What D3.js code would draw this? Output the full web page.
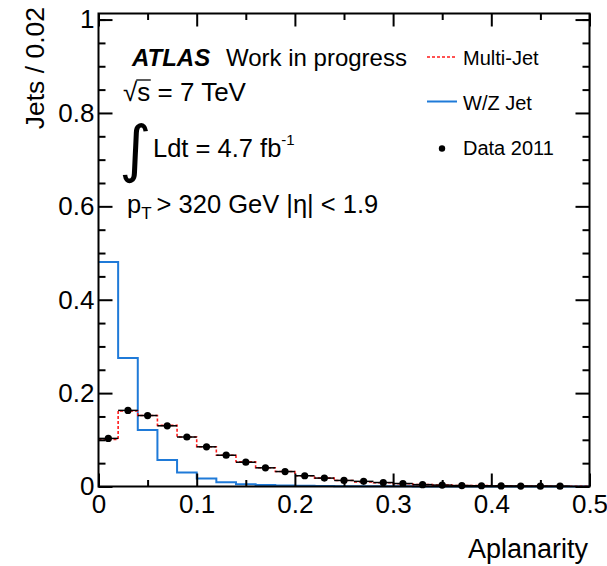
<!DOCTYPE html>
<html><head><meta charset="utf-8">
<script src="https://cdnjs.cloudflare.com/ajax/libs/d3/7.8.5/d3.min.js"></script>
<style>
body{margin:0;background:#fff;}
svg{display:block;font-family:"Liberation Sans",Arial,Helvetica,sans-serif;}
</style></head>
<body><svg id="c" width="607" height="566"></svg>
<script>
// ---- data ----
const binWidth = 0.02;
const binLow = [0.00,0.02,0.04,0.06,0.08,0.10,0.12,0.14,0.16,0.18,0.20,0.22,0.24,0.26,0.28,0.30,0.32,0.34,0.36,0.38,0.40,0.42,0.44,0.46,0.48];
const multiJet = [0.101,0.162,0.152,0.131,0.106,0.085,0.067,0.053,0.040,0.032,0.023,0.018,0.013,0.010,0.008,0.006,0.004,0.003,0.002,0.0018,0.0014,0.0011,0.0009,0.0006,0.0004];
const wzJet = [0.481,0.275,0.121,0.057,0.030,0.017,0.009,0.005,0.003,0.002,0.0015,0.0011,0.0008,0.0005,0.0004,0.0003,0.0002,0.0002,0.0001,0.0001,0.0001,0,0,0,0];
const dataCenters = [0.01,0.03,0.05,0.07,0.09,0.11,0.13,0.15,0.17,0.19,0.21,0.23,0.25,0.27,0.29,0.31,0.33,0.35,0.37,0.39,0.41,0.43,0.45,0.47];
const data2011 = [0.103,0.163,0.152,0.130,0.106,0.085,0.067,0.052,0.040,0.032,0.023,0.018,0.013,0.011,0.0085,0.0064,0.004,0.003,0.002,0.0016,0.0012,0.001,0.0008,0.0006];
const xMajorTicks = [0,0.1,0.2,0.3,0.4,0.5];
const xMinorTicks = [0.05,0.15,0.25,0.35,0.45];
const yMajorTicks = [0,0.2,0.4,0.6,0.8,1];
const yMinorTicks = [0.05,0.1,0.15,0.25,0.3,0.35,0.45,0.5,0.55,0.65,0.7,0.75,0.85,0.9,0.95,1.0];
const legendLabels = ["Multi-Jet","W/Z Jet","Data 2011"];

// ---- layout ----
const L=98.5,R=589.5,T=13.5,B=486.5;
const x=d3.scaleLinear().domain([0,0.5]).range([L,R]);
const y=d3.scaleLinear().domain([0,1.013]).range([B,T]);
const svg=d3.select("#c");
svg.append("rect").attr("width",607).attr("height",566).attr("fill","#fff");

const blue="#1f7ad8", red="#ff1a1a";

// histograms
function stepPts(vals){
  const pts=binLow.map((lo,i)=>[lo,vals[i]]);
  pts.push([binLow[binLow.length-1]+binWidth, vals[vals.length-1]]);
  return pts;
}
const line=d3.line().x(d=>x(d[0])).y(d=>y(d[1])).curve(d3.curveStepAfter);
svg.append("path").attr("d",line(stepPts(wzJet))).attr("fill","none").attr("stroke",blue).attr("stroke-width",2);
svg.append("path").attr("d",line(stepPts(multiJet))).attr("fill","none").attr("stroke",red).attr("stroke-width",1.6).attr("stroke-dasharray","3,2");

// data x-error bars and points
const dg=svg.append("g");
dg.selectAll("line").data(dataCenters).join("line")
  .attr("x1",(d)=>x(d-binWidth/2)).attr("x2",(d)=>x(d+binWidth/2))
  .attr("y1",(d,i)=>y(data2011[i])).attr("y2",(d,i)=>y(data2011[i]))
  .attr("stroke","#000").attr("stroke-width",1.5);
dg.selectAll("circle").data(dataCenters).join("circle")
  .attr("cx",d=>x(d)).attr("cy",(d,i)=>y(data2011[i])).attr("r",3.6).attr("fill","#000");

// frame
svg.append("rect").attr("x",L).attr("y",T).attr("width",R-L).attr("height",B-T)
  .attr("fill","none").attr("stroke","#000").attr("stroke-width",2);

// axes
const fmtY=d=>d===0?"0":(d===1?"1":d.toFixed(1));
const fmtX=d=>d===0?"0":d.toFixed(1);
function styleAxis(g){g.select(".domain").remove();g.selectAll(".tick line").attr("stroke","#000").attr("stroke-width",2);
  g.selectAll("text").attr("font-family","Liberation Sans, Arial, sans-serif").attr("font-size",26).attr("fill","#000");}
svg.append("g").attr("transform",`translate(0,${B})`)
  .call(d3.axisBottom(x).tickValues(xMajorTicks).tickFormat(fmtX).tickSizeInner(-13).tickSizeOuter(0).tickPadding(8)).call(styleAxis);
svg.append("g").attr("transform",`translate(0,${B})`)
  .call(d3.axisBottom(x).tickValues(xMinorTicks).tickFormat("").tickSizeInner(-6.5).tickSizeOuter(0)).call(styleAxis);
svg.append("g").attr("transform",`translate(0,${T})`)
  .call(d3.axisTop(x).tickValues(xMajorTicks).tickFormat("").tickSizeInner(-13).tickSizeOuter(0)).call(styleAxis);
svg.append("g").attr("transform",`translate(0,${T})`)
  .call(d3.axisTop(x).tickValues(xMinorTicks).tickFormat("").tickSizeInner(-6.5).tickSizeOuter(0)).call(styleAxis);
svg.append("g").attr("transform",`translate(${L},0)`)
  .call(d3.axisLeft(y).tickValues(yMajorTicks).tickFormat(fmtY).tickSizeInner(-14).tickSizeOuter(0).tickPadding(4)).call(styleAxis);
svg.append("g").attr("transform",`translate(${L},0)`)
  .call(d3.axisLeft(y).tickValues(yMinorTicks).tickFormat("").tickSizeInner(-7).tickSizeOuter(0)).call(styleAxis);
svg.append("g").attr("transform",`translate(${R},0)`)
  .call(d3.axisRight(y).tickValues(yMajorTicks).tickFormat("").tickSizeInner(-14).tickSizeOuter(0)).call(styleAxis);
svg.append("g").attr("transform",`translate(${R},0)`)
  .call(d3.axisRight(y).tickValues(yMinorTicks).tickFormat("").tickSizeInner(-7).tickSizeOuter(0)).call(styleAxis);

// axis titles
svg.append("text").attr("transform","translate(44,7) rotate(-90)").attr("text-anchor","end")
  .attr("font-size",26.5).text("Jets / 0.02");
svg.append("text").attr("x",588).attr("y",558).attr("text-anchor","end").attr("font-size",27).text("Aplanarity");

// ATLAS label block
const t1=svg.append("text").attr("x",132).attr("y",66).attr("font-size",24);
t1.append("tspan").attr("font-weight","bold").attr("font-style","italic").text("ATLAS");
t1.append("tspan").attr("x",226).text("Work in progress");

const t2=svg.append("text").attr("x",123).attr("y",101).attr("font-size",26);
t2.append("tspan").text("√");
const sSpan=t2.append("tspan").text("s");
t2.append("tspan").text(" = 7 TeV");
const sb=sSpan.node().getBBox();
svg.append("line").attr("x1",sb.x-1).attr("x2",sb.x+sb.width+0.5).attr("y1",sb.y+3).attr("y2",sb.y+3)
  .attr("stroke","#000").attr("stroke-width",1.3);

svg.append("text").attr("x",119).attr("y",170).attr("font-size",62).attr("font-family","DejaVu Sans").text("∫");
const t3=svg.append("text").attr("x",153).attr("y",157).attr("font-size",25.5);
t3.append("tspan").text("Ldt = 4.7 fb");
t3.append("tspan").attr("font-size",15).attr("dy",-12).text("-1");

const t4=svg.append("text").attr("x",127).attr("y",213).attr("font-size",25.5);
t4.append("tspan").text("p");
t4.append("tspan").attr("font-size",17).attr("dy",6).text("T");
t4.append("tspan").attr("dy",-6).attr("dx",5).text("> 320 GeV |η| < 1.9");

// legend
const lg=svg.append("g").attr("font-size",20);
lg.append("line").attr("x1",427).attr("x2",455).attr("y1",57).attr("y2",57).attr("stroke",red).attr("stroke-width",1.6).attr("stroke-dasharray","3,2");
lg.append("line").attr("x1",427).attr("x2",457).attr("y1",101.5).attr("y2",101.5).attr("stroke",blue).attr("stroke-width",2);
lg.append("circle").attr("cx",442).attr("cy",148.5).attr("r",3.2).attr("fill","#000");
lg.selectAll("text").data(legendLabels).join("text")
  .attr("x",463).attr("y",(d,i)=>[65,110,155][i]).text(d=>d);
</script></body></html>
